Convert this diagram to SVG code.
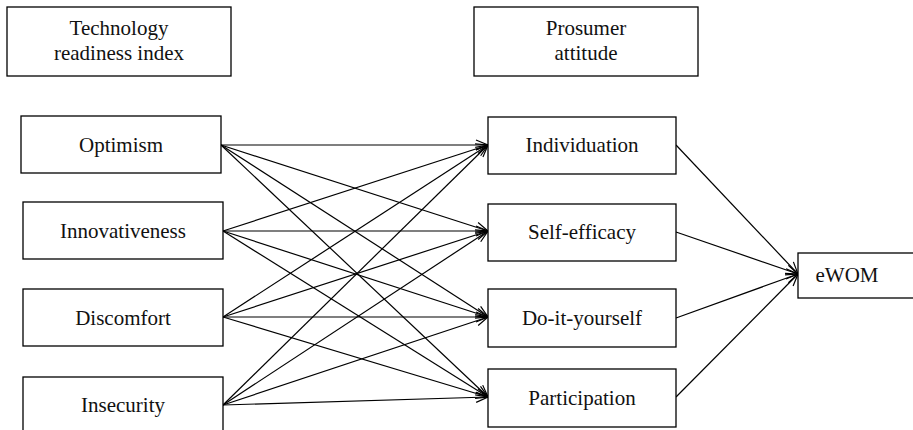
<svg xmlns="http://www.w3.org/2000/svg" width="913" height="430" viewBox="0 0 913 430">
<style>
  .box { fill: #ffffff; stroke: #000000; stroke-width: 1.3; }
  .lbl { font-family: "Liberation Serif", Tinos, "Times New Roman", serif; font-size: 21px; fill: #111111; text-anchor: middle; }
  .edge { stroke: #000000; stroke-width: 1.2; fill: none; marker-end: url(#arr); }
</style>
<defs>
  <marker id="arr" markerUnits="userSpaceOnUse" markerWidth="16" markerHeight="14" refX="13" refY="6" orient="auto" viewBox="0 0 16 12">
    <path d="M1,1 L13,6 L1,11" fill="none" stroke="#000000" stroke-width="1.2"/>
  </marker>
</defs>
<rect width="913" height="430" fill="#ffffff"/>

<g id="connectors">
  <line class="edge" x1="221" y1="145" x2="488" y2="145"/>
  <line class="edge" x1="221" y1="145" x2="488" y2="231"/>
  <line class="edge" x1="221" y1="145" x2="488" y2="317"/>
  <line class="edge" x1="221" y1="145" x2="488" y2="397"/>
  <line class="edge" x1="223" y1="231" x2="488" y2="145"/>
  <line class="edge" x1="223" y1="231" x2="488" y2="231"/>
  <line class="edge" x1="223" y1="231" x2="488" y2="317"/>
  <line class="edge" x1="223" y1="231" x2="488" y2="397"/>
  <line class="edge" x1="223" y1="317" x2="488" y2="145"/>
  <line class="edge" x1="223" y1="317" x2="488" y2="231"/>
  <line class="edge" x1="223" y1="317" x2="488" y2="317"/>
  <line class="edge" x1="223" y1="317" x2="488" y2="397"/>
  <line class="edge" x1="223" y1="405" x2="488" y2="145"/>
  <line class="edge" x1="223" y1="405" x2="488" y2="231"/>
  <line class="edge" x1="223" y1="405" x2="488" y2="317"/>
  <line class="edge" x1="223" y1="405" x2="488" y2="397"/>
  <line class="edge" x1="676" y1="145" x2="798" y2="274"/>
  <line class="edge" x1="676" y1="232" x2="798" y2="274"/>
  <line class="edge" x1="676" y1="318" x2="798" y2="274"/>
  <line class="edge" x1="676" y1="397" x2="798" y2="274"/>
</g>

<g id="tri">
  <rect class="box" x="7" y="7" width="224" height="69"/>
  <text class="lbl" x="119" y="35">Technology</text>
  <text class="lbl" x="119" y="60">readiness index</text>
</g>
<g id="prosumer">
  <rect class="box" x="474" y="7" width="224" height="69"/>
  <text class="lbl" x="586" y="35">Prosumer</text>
  <text class="lbl" x="586" y="60">attitude</text>
</g>

<g id="optimism">
  <rect class="box" x="21" y="116" width="200" height="57"/>
  <text class="lbl" x="121" y="152">Optimism</text>
</g>
<g id="innovativeness">
  <rect class="box" x="23" y="202" width="200" height="57"/>
  <text class="lbl" x="123" y="238">Innovativeness</text>
</g>
<g id="discomfort">
  <rect class="box" x="23" y="289" width="200" height="57"/>
  <text class="lbl" x="123" y="325">Discomfort</text>
</g>
<g id="insecurity">
  <rect class="box" x="23" y="377" width="200" height="57"/>
  <text class="lbl" x="123" y="412">Insecurity</text>
</g>

<g id="individuation">
  <rect class="box" x="488" y="117" width="188" height="57"/>
  <text class="lbl" x="582" y="152">Individuation</text>
</g>
<g id="selfefficacy">
  <rect class="box" x="488" y="204" width="188" height="57"/>
  <text class="lbl" x="582" y="239">Self-efficacy</text>
</g>
<g id="diy">
  <rect class="box" x="488" y="289" width="188" height="58"/>
  <text class="lbl" x="582" y="325">Do-it-yourself</text>
</g>
<g id="participation">
  <rect class="box" x="488" y="369" width="188" height="58"/>
  <text class="lbl" x="582" y="405">Participation</text>
</g>

<g id="ewom">
  <rect class="box" x="798" y="253" width="118" height="45"/>
  <text class="lbl" x="847" y="282">eWOM</text>
</g>
</svg>
